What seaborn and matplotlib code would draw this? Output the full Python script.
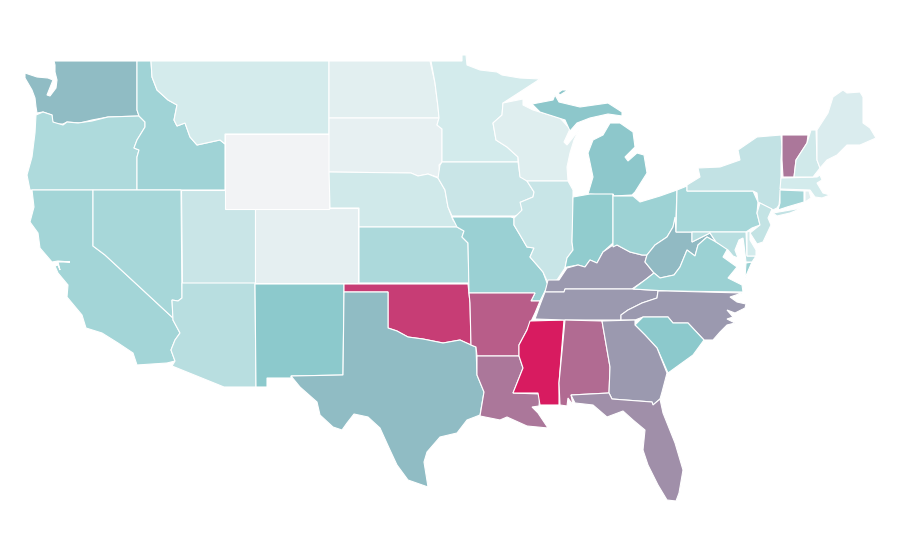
import matplotlib
matplotlib.use('Agg')
import matplotlib.pyplot as plt
import seaborn as sns

states = ['WA','OR','CA','ID','NV','MT','WY','UT','AZ','CO','NM','ND','SD','NE','KS','OK','TX',
          'MN','IA','MO','AR','LA','WI','IL','MS','MI','IN','KY','TN','AL','OH','WV','VA','NC','SC','GA','FL',
          'PA','NY','NJ','MD','DE','CT','RI','MA','VT','NH','ME']
values = [57,33,38.5,40,36.5,12.5,0,19,28,5.8,50,7,5,15,34,93,57,
          13,19,43,87,82,8,19.5,100,51,47.5,75,75,84,41.5,58,42.5,75,50,75,77,
          37,23,22,28,13,38.5,7,13,82,15,10.5]

outlines = {
 'WA': [[(54,61),(137,61),(137,110),(139,116),(108,117),(92,120),(80,123),(67,122),(63,124),(55,124),(52,121),(52,115),(43,112),(37,113),(36,107),(35,98),(32,90),(25,78),(25,73),(37,77),(48,78),(53,80),(49,90),(47,95),(50,96),(56,88),(57,80),(55,72),(55,65)]],
 'OR': [[(36,115),(43,112),(52,115),(53,122),(63,125),(67,122),(78,123),(92,121),(108,117),(139,116),(145,122),(145,127),(137,140),(134,148),(139,150),(137,157),(137,190),(30,190),(27,175),(32,157),(35,133)]],
 'CA': [[(32,190),(93,190),(93,246),(105,255),(145,292),(173,318),(173,320),(180,333),(175,340),(171,350),(175,361),(167,363),(137,365),(133,353),(118,343),(102,333),(86,328),(82,315),(67,297),(68,285),(58,273),(55,266),(58,265),(60,270),(58,262),(70,262),(58,261),(52,262),(40,248),(38,233),(30,222),(34,207)]],
 'ID': [[(137,61),(151,61),(152,77),(157,90),(168,100),(177,105),(174,120),(177,126),(185,123),(190,137),(197,145),(220,140),(225,144),(225,190),(137,190),(137,157),(139,150),(134,148),(137,140),(145,127),(145,122),(139,116),(137,110)]],
 'NV': [[(93,190),(181,190),(182,298),(178,301),(172,300),(173,318),(145,292),(105,255),(93,246)]],
 'MT': [[(151,61),(329,61),(329,134),(225,134),(225,144),(220,140),(197,145),(190,137),(185,123),(177,126),(174,120),(177,105),(168,100),(157,90),(152,77)]],
 'WY': [[(225,134),(329,134),(329,209),(225,209)]],
 'UT': [[(181,190),(225,190),(225,209),(255,209),(255,283),(182,283)]],
 'AZ': [[(182,283),(255,283),(256,387),(224,387),(172,366),(175,361),(171,350),(175,340),(180,333),(173,320),(172,300),(178,301),(182,298)]],
 'CO': [[(255,209),(329,209),(329,208),(358,208),(358,283),(255,283)]],
 'NM': [[(255,284),(344,284),(344,292),(343,375),(291,376),(291,378),(267,378),(267,387),(256,387)]],
 'ND': [[(329,61),(430,61),(435,83),(438,107),(439,118),(329,118)]],
 'SD': [[(329,118),(439,118),(437,125),(442,129),(442,162),(439,165),(440,178),(428,174),(418,176),(411,173),(329,172)]],
 'NE': [[(329,172),(411,173),(418,176),(428,174),(438,178),(445,190),(448,207),(453,220),(459,227),(359,227),(359,208),(330,208)]],
 'KS': [[(359,227),(457,227),(464,231),(462,237),(468,243),(469,283),(359,283)]],
 'OK': [[(344,284),(468,284),(470,303),(471,345),(460,340),(443,343),(423,339),(408,337),(397,331),(388,328),(388,292),(344,292)]],
 'TX': [[(344,292),(388,292),(388,328),(397,331),(408,337),(423,339),(443,343),(460,340),(471,345),(476,347),(477,375),(484,392),(480,415),(467,420),(457,433),(440,437),(427,452),(424,462),(428,487),(408,480),(397,465),(390,450),(380,428),(368,417),(354,414),(347,423),(342,430),(333,427),(320,415),(317,402),(300,387),(291,376),(343,375)]],
 'MN': [[(431,61),(462,61),(462,55),(466,55),(467,65),(480,70),(497,72),(502,75),(520,78),(540,79),(520,92),(503,103),(502,115),(493,123),(496,140),(507,147),(518,157),(518,162),(442,162),(442,129),(437,125),(439,118),(438,107),(435,83)]],
 'IA': [[(442,162),(518,162),(520,176),(527,181),(534,192),(533,197),(521,202),(522,213),(515,216),(452,216),(448,207),(445,190),(438,178),(440,165)]],
 'MO': [[(452,217),(511,217),(514,218),(514,225),(520,235),(527,247),(534,248),(530,257),(537,265),(543,272),(547,283),(549,283),(540,301),(531,301),(535,293),(469,293),(468,243),(462,237),(464,231),(457,227)]],
 'AR': [[(469,293),(535,293),(531,301),(540,301),(535,313),(527,330),(519,345),(519,356),(477,356),(476,347),(471,345),(470,303)]],
 'LA': [[(477,356),(519,356),(523,368),(513,393),(540,394),(539,406),(532,407),(538,413),(548,428),(527,426),(507,417),(500,420),(480,416),(484,392),(477,375)]],
 'WI': [[(503,103),(523,99),(523,105),(533,110),(560,118),(570,129),(564,142),(567,145),(579,130),(574,140),(570,153),(567,167),(568,181),(527,181),(520,177),(518,157),(507,147),(496,140),(493,123),(502,115)]],
 'IL': [[(527,181),(568,181),(573,190),(573,217),(572,242),(573,250),(567,258),(565,268),(557,280),(548,283),(543,272),(537,265),(530,257),(534,248),(527,247),(520,235),(514,225),(514,218),(522,210),(520,202),(521,202),(533,197),(534,192)]],
 'MS': [[(530,321),(564,320),(559,383),(559,405),(540,405),(538,393),(513,393),(523,368),(519,356),(519,345),(527,330)]],
 'MI': [[(588,194),(593,177),(588,153),(593,140),(603,135),(610,123),(620,123),(633,132),(635,147),(625,157),(628,161),(637,153),(644,155),(647,173),(635,192),(632,195),(614,196)],
        [(532,104),(553,100),(555,95),(559,102),(580,107),(608,103),(622,112),(622,116),(608,114),(590,118),(577,123),(570,131),(565,120),(540,112)],
        [(558,93),(562,90),(568,90),(560,95)]],
 'IN': [[(573,197),(590,194),(613,194),(613,243),(603,252),(597,263),(590,260),(585,267),(578,265),(567,267),(565,268),(567,258),(573,250),(572,242)]],
 'KY': [[(545,292),(548,280),(559,280),(567,268),(578,265),(585,267),(590,260),(597,263),(603,252),(613,245),(617,245),(630,252),(642,255),(647,255),(645,262),(654,273),(645,280),(632,289),(565,289),(564,292)]],
 'TN': [[(565,289),(632,289),(667,291),(658,291),(657,298),(642,303),(628,310),(621,315),(621,320),(564,320),(535,319),(540,305),(545,292),(564,292)]],
 'AL': [[(565,320),(602,321),(610,367),(609,393),(571,395),(573,405),(568,398),(567,406),(560,405),(559,383)]],
 'OH': [[(614,196),(633,196),(640,202),(660,196),(677,190),(676,217),(673,227),(667,237),(655,245),(647,255),(642,255),(630,252),(617,245),(613,247),(613,194)]],
 'WV': [[(647,255),(655,245),(667,237),(673,227),(675,217),(676,232),(692,232),(692,242),(710,233),(716,242),(707,237),(698,245),(695,256),(687,250),(680,267),(674,275),(660,278),(654,273),(645,262)]],
 'VA': [[(633,289),(645,280),(654,273),(660,278),(674,275),(680,267),(687,250),(695,256),(698,245),(707,237),(716,242),(728,248),(723,257),(737,267),(728,278),(742,285),(743,292),(667,291)],
        [(746,263),(752,262),(745,278)]],
 'NC': [[(621,320),(635,320),(643,317),(668,317),(673,323),(688,323),(704,340),(713,340),(720,332),(727,325),(735,323),(727,319),(733,317),(727,310),(735,313),(745,308),(746,304),(737,302),(730,297),(742,293),(667,291),(658,291),(657,298),(642,303),(628,310),(621,315)]],
 'SC': [[(635,325),(643,317),(668,317),(673,323),(688,323),(704,340),(693,355),(668,373),(657,348),(645,335)]],
 'GA': [[(602,321),(635,320),(635,325),(645,335),(657,348),(667,373),(662,392),(660,399),(653,405),(652,402),(612,399),(609,393),(610,367)]],
 'FL': [[(571,395),(609,393),(612,399),(652,402),(653,405),(660,399),(663,413),(675,443),(683,470),(679,493),(676,501),(667,500),(658,485),(648,465),(643,450),(645,430),(633,420),(623,411),(607,417),(593,405),(575,403)]],
 'PA': [[(677,190),(687,186),(687,191),(753,191),(758,202),(757,213),(760,225),(752,228),(746,232),(676,232)]],
 'NY': [[(687,185),(700,177),(698,168),(720,167),(740,160),(738,150),(757,137),(781,135),(782,147),(781,160),(781,187),(779,205),(777,208),(773,210),(758,202),(757,193),(753,191),(687,191)],
        [(773,213),(802,208),(790,213),(777,216)]],
 'NJ': [[(760,203),(772,209),(768,218),(771,225),(763,242),(757,244),(750,233),(760,225),(757,213)]],
 'MD': [[(692,232),(746,232),(747,256),(756,256),(752,262),(746,262),(744,245),(743,238),(739,240),(735,250),(738,258),(733,256),(728,250),(716,242),(710,233),(692,242)]],
 'DE': [[(747,232),(750,231),(750,240),(756,250),(756,256),(747,256)]],
 'CT': [[(780,190),(804,191),(804,202),(787,207),(778,210),(780,203)]],
 'RI': [[(805,191),(809,191),(811,198),(805,202)]],
 'MA': [[(781,178),(817,177),(820,175),(822,180),(817,183),(823,193),(830,195),(822,198),(815,197),(810,190),(780,189)]],
 'VT': [[(782,135),(808,135),(807,143),(796,160),(794,177),(783,177),(782,160),(782,147)]],
 'NH': [[(811,130),(816,130),(817,160),(820,168),(813,177),(794,177),(796,160),(807,143)]],
 'ME': [[(817,130),(828,113),(833,97),(843,90),(847,93),(860,92),(863,97),(863,123),(870,128),(876,138),(860,145),(847,145),(837,155),(827,160),(820,168),(817,160)]],
}

sns.set_theme(style='white')
cmap = sns.blend_palette(['#f2f3f5', '#d4ebec', '#bee0e2', '#a5d6d8', '#8cc9cc',
                          '#93b2be', '#9a9bb0', '#b95b88', '#d81b60'], n_colors=256, as_cmap=True)

fig = plt.figure(figsize=(9, 5.6), dpi=100)
ax = fig.add_axes([0, 0, 1, 1])
for state, value in zip(states, values):
    for ring in outlines[state]:
        xs, ys = zip(*ring)
        ax.fill(xs, ys, facecolor=cmap(value / 100), edgecolor='white', linewidth=0.8)
ax.set_xlim(0, 900)
ax.set_ylim(560, 0)
ax.axis('off')
fig.savefig('out.png', dpi=100, facecolor='white')
